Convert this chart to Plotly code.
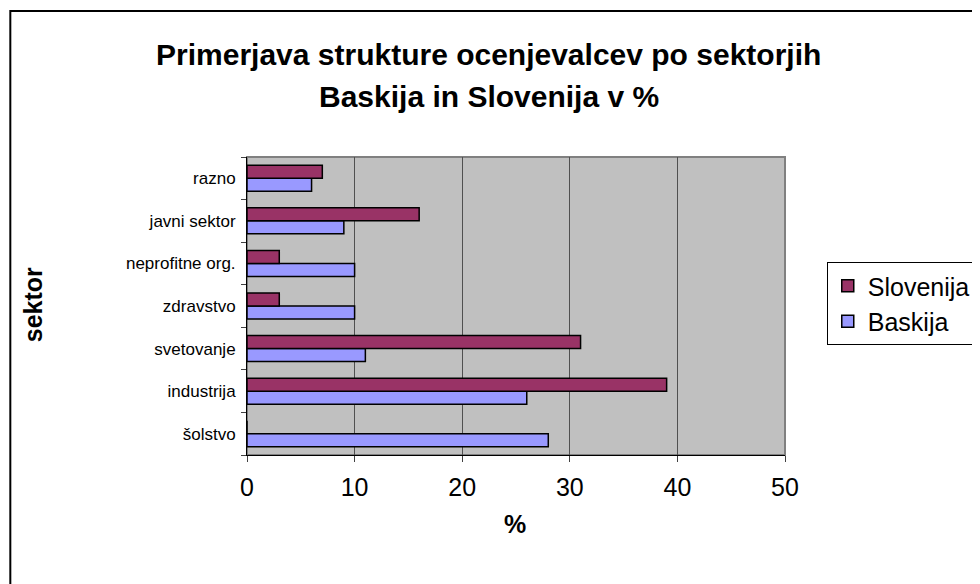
import plotly.graph_objects as go

# sektorji od spodaj navzgor
sektorji = ["šolstvo", "industrija", "svetovanje", "zdravstvo",
            "neprofitne org.", "javni sektor", "razno"]
slovenija = [0, 39, 31, 3, 3, 16, 7]
baskija = [28, 26, 11, 10, 10, 9, 6]
x_ticks = [0, 10, 20, 30, 40, 50]

FONT = "Arial, Liberation Sans, sans-serif"
# the page puts the figure 8px in from the top-left corner
OFF = 8
W, H = 980, 584
L, R, T, B = 247 - OFF, 788 - OFF, 157 - OFF, 455 - OFF  # plot area in px


def px_x(x):
    return (x - OFF - L) / (R - L)


def px_y(y):
    return (B - (y - OFF)) / (B - T)


fig = go.Figure()
fig.add_trace(go.Bar(
    y=sektorji, x=baskija, name="Baskija", orientation="h",
    marker=dict(color="#9999FF", line=dict(color="black", width=1.5)),
))
fig.add_trace(go.Bar(
    y=sektorji, x=slovenija, name="Slovenija", orientation="h",
    marker=dict(color="#993366", line=dict(color="black", width=1.5)),
))

fig.update_layout(
    width=W, height=H,
    margin=dict(l=L, r=W - R, t=T, b=H - B, pad=0),
    paper_bgcolor="white",
    plot_bgcolor="#C0C0C0",
    barmode="group",
    bargap=0.39,
    bargroupgap=0,
    font=dict(family=FONT, color="black"),
    showlegend=True,
    legend=dict(
        x=px_x(830), y=px_y(262), xanchor="left", yanchor="top",
        traceorder="reversed", bgcolor="white",
        bordercolor="black", borderwidth=1,
        font=dict(size=25, family=FONT), itemwidth=30,
    ),
    xaxis=dict(
        range=[0, 50], tickvals=x_ticks, showgrid=True,
        gridcolor="#505050", gridwidth=1, zeroline=False,
        showline=True, linecolor="black", linewidth=1,
        ticks="outside", ticklen=6, tickcolor="#404040",
        ticklabelstandoff=4,
        tickfont=dict(size=25, family=FONT),
    ),
    yaxis=dict(
        categoryorder="array", categoryarray=sektorji,
        showgrid=False, showline=True, linecolor="black", linewidth=1,
        ticks="outside", ticklen=5, tickcolor="#404040", tickson="boundaries",
        ticklabelstandoff=7,
        tickfont=dict(size=17, family=FONT),
    ),
    shapes=[
        dict(type="rect", xref="paper", yref="paper", x0=0, x1=1, y0=0, y1=1,
             line=dict(color="#808080", width=2), layer="below"),
        dict(type="rect", xref="paper", yref="paper",
             x0=px_x(9), x1=px_x(1000), y0=px_y(600), y1=px_y(11),
             line=dict(color="black", width=2)),
    ],
    annotations=[
        dict(text="<b>Primerjava strukture ocenjevalcev po sektorjih</b>",
             xref="paper", yref="paper", x=px_x(490), y=px_y(54),
             xanchor="center", yanchor="middle",
             showarrow=False, font=dict(size=30, family=FONT)),
        dict(text="<b>Baskija in Slovenija v %</b>",
             xref="paper", yref="paper", x=px_x(490), y=px_y(96),
             xanchor="center", yanchor="middle",
             showarrow=False, font=dict(size=30, family=FONT)),
        dict(text="<b>sektor</b>", textangle=-90,
             xref="paper", yref="paper", x=px_x(32), y=px_y(305),
             xanchor="center", yanchor="middle",
             showarrow=False, font=dict(size=25, family=FONT)),
        dict(text="<b>%</b>",
             xref="paper", yref="paper", x=px_x(516), y=px_y(524),
             xanchor="center", yanchor="middle",
             showarrow=False, font=dict(size=25, family=FONT)),
    ],
)

fig.write_html("out.html")
